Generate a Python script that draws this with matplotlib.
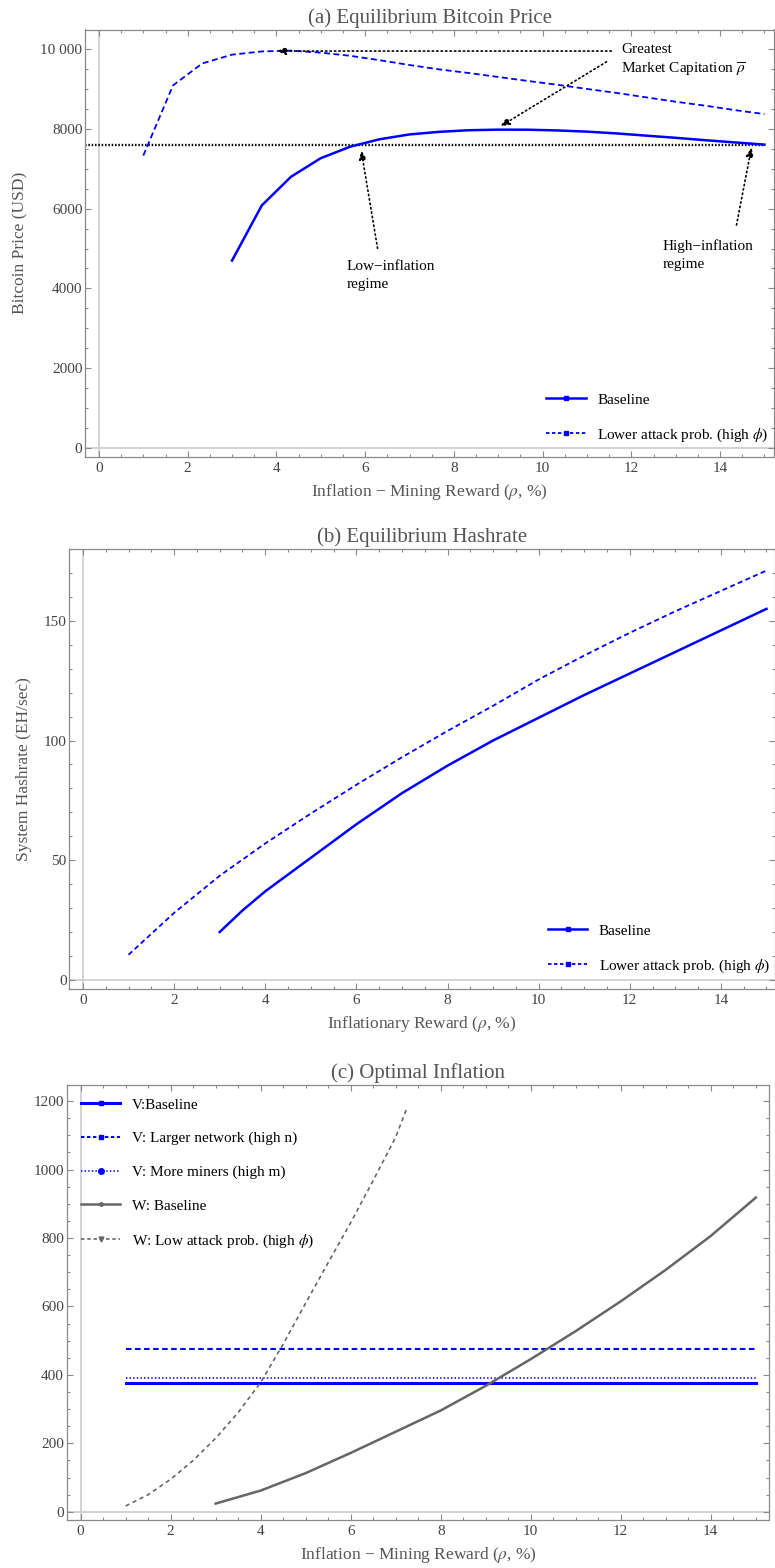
import matplotlib as mpl
import matplotlib.pyplot as plt
from matplotlib.lines import Line2D
from matplotlib.ticker import MultipleLocator, FuncFormatter

plt.rcParams["font.family"] = ["Liberation Serif", "DejaVu Serif"]
plt.rcParams["mathtext.fontset"] = "stix"
plt.rcParams["lines.scale_dashes"] = False

#############
# Constants #
#############

BLUE = "#0000ff"
GRAY = "#666666"
FRAME = "#8a8a8a"
AXIS = "#d0d0d0"
TEXT = "#555555"
TICK = "#444444"

W, H = 775, 1568

########
# Data #
########

# (a) Equilibrium Bitcoin price (USD)
price_base_x = [3, 3.67, 4.33, 5, 5.67, 6.33, 7, 7.67, 8.33, 9, 9.67, 10.33,
                11, 11.67, 12.33, 13, 13.67, 14.33, 15]
price_base = [4700, 6080, 6800, 7265, 7555, 7740, 7860, 7925, 7965, 7980, 7978,
              7960, 7930, 7885, 7830, 7775, 7715, 7660, 7605]
price_phi_x = [1, 1.67, 2.33, 3, 3.67, 4.33, 5, 5.67, 6.33, 7, 7.67, 8.33, 9,
               9.67, 10.33, 11, 11.67, 12.33, 13, 13.67, 14.33, 15]
price_phi = [7330, 9090, 9640, 9860, 9940, 9960, 9910, 9830, 9720, 9600, 9490,
             9400, 9300, 9200, 9105, 9000, 8900, 8790, 8680, 8580, 8470, 8370]
price_ref = 7600

# (b) Equilibrium hashrate (EH/sec)
hash_base_x = [3, 3.5, 4, 5, 6, 7, 8, 9, 10, 11, 12, 13, 14, 15]
hash_base = [20, 29, 37, 51, 65, 78, 89.5, 100, 109.5, 119, 128, 137, 146, 155]
hash_phi_x = [1, 2, 3, 4, 5, 6, 7, 8, 9, 10, 11, 12, 13, 14, 15]
hash_phi = [10.5, 28, 43.5, 57, 69.5, 81.5, 93, 104, 114.5, 125.5, 135.5, 145,
            154, 162.5, 171]

# (c) Optimal inflation
v_x = [1, 15]
v_base = 376
v_network = 476
v_miners = 392
w_base_x = [3, 4, 5, 6, 7, 8, 9, 10, 11, 12, 13, 14, 15]
w_base = [24, 62, 113, 172, 234, 296, 368, 446, 528, 615, 707, 806, 918]
w_phi_x = [1, 1.5, 2, 2.5, 3, 3.5, 4, 4.5, 5, 5.5, 6, 6.5, 7, 7.25]
w_phi = [17, 50, 95, 150, 215, 290, 378, 490, 610, 728, 845, 968, 1095, 1180]

#############
# Functions #
#############


def add_axes(fig, left, top, right, bottom):
    return fig.add_axes([left / W, 1 - bottom / H, (right - left) / W, (bottom - top) / H])


def frame(ax, xlim, ylim, ymajor, yminor, height_px, title, xlabel):
    ax.set_xlim(*xlim)
    ax.set_ylim(*ylim)
    ax.xaxis.set_major_locator(MultipleLocator(2))
    ax.xaxis.set_minor_locator(MultipleLocator(0.5))
    ax.yaxis.set_major_locator(MultipleLocator(ymajor))
    ax.yaxis.set_minor_locator(MultipleLocator(yminor))
    ax.tick_params(which="both", direction="in", top=True, right=True,
                   color=FRAME, width=0.8)
    ax.tick_params(which="major", length=4.5, labelsize=11, labelcolor=TICK)
    ax.tick_params(which="minor", length=2.5)
    ax.tick_params(axis="x", pad=3.5)
    ax.tick_params(axis="y", pad=2)
    for s in ax.spines.values():
        s.set_color(FRAME)
        s.set_linewidth(0.9)
    ax.axhline(0, color=AXIS, lw=1.3, zorder=0)
    ax.axvline(0, color=AXIS, lw=1.3, zorder=0)
    ax.set_title(title, fontsize=15, color=TEXT, pad=5)
    ax.set_xlabel(xlabel, fontsize=12.5, color=TEXT, va="center")
    ax.xaxis.set_label_coords(0.5, -35 / height_px)


def set_ylabel(ax, text, x_px, left_px):
    ax.set_ylabel(text, fontsize=12.5, color=TEXT, va="center")
    width_px = ax.get_position().width * W
    ax.yaxis.set_label_coords((x_px - left_px) / width_px, 0.5)


def legend(ax, handles, labels, anchor):
    ax.legend(handles, labels, loc="center left", bbox_to_anchor=anchor,
              bbox_transform=ax.transData, frameon=False, fontsize=11,
              handlelength=2.6, handletextpad=0.75, labelspacing=1.3,
              borderpad=0, borderaxespad=0, numpoints=1)


def arrow(ax, start, tip):
    ax.annotate("", xy=tip, xytext=start,
                arrowprops=dict(arrowstyle="-|>,head_length=0.55,head_width=0.22",
                                color="black", lw=1.2, linestyle=(0, (1, 2.2)),
                                shrinkA=0, shrinkB=0))


def thousands(v, pos):
    v = int(round(v))
    return f"{v // 1000} {v % 1000:03d}" if v >= 10000 else f"{v}"


########
# Main #
########

fig = plt.figure(figsize=(7.75, 15.68), dpi=100)

# ---- (a) ----
ax = add_axes(fig, 85.2, 29.5, 774.2, 457)
frame(ax, (-0.31, 15.22), (-225, 10490), 2000, 500, 427.5,
      "(a) Equilibrium Bitcoin Price", "Inflation \u2212 Mining Reward ($\\rho$, %)")
set_ylabel(ax, "Bitcoin Price (USD)", 20, 85.2)
ax.yaxis.set_major_formatter(FuncFormatter(thousands))
ax.plot([-0.31, 15], [price_ref, price_ref], color="black", lw=1.7,
        linestyle=(0, (1.1, 1.3)), zorder=2)
ax.plot(price_base_x, price_base, color=BLUE, lw=1.8, zorder=3)
ax.plot(price_phi_x, price_phi, color=BLUE, lw=1.3, dashes=(4.3, 2.5), zorder=3)
arrow(ax, (11.55, 9950), (4.0, 9950))
arrow(ax, (11.44, 9680), (9.04, 8060))
arrow(ax, (6.28, 5005), (5.91, 7470))
arrow(ax, (14.37, 5590), (14.71, 7540))
ax.text(11.77, 10000, "Greatest", fontsize=11, va="center", ha="left")
ax.text(11.77, 9474, "Market Capitation $\\overline{\\rho}$", fontsize=11,
        va="center", ha="left")
ax.text(5.58, 4323, "Low\u2212inflation\nregime", fontsize=11, va="center",
        ha="left", linespacing=1.55)
ax.text(12.7, 4829, "High\u2212inflation\nregime", fontsize=11, va="center",
        ha="left", linespacing=1.55)
legend(ax,
       [Line2D([], [], color=BLUE, lw=1.8, marker="s", ms=3.5),
        Line2D([], [], color=BLUE, lw=1.3, dashes=(2.5, 1.8), marker="s", ms=3.5)],
       ["Baseline", "Lower attack prob. (high $\\phi$)"], (10.08, 743))

# ---- (b) ----
ax = add_axes(fig, 69.3, 549, 774.7, 989)
frame(ax, (-0.30, 15.18), (-3.8, 180), 50, 10, 440,
      "(b) Equilibrium Hashrate", "Inflationary Reward ($\\rho$, %)")
set_ylabel(ax, "System Hashrate (EH/sec)", 24, 69.3)
ax.plot(hash_base_x, hash_base, color=BLUE, lw=1.8, zorder=3)
ax.plot(hash_phi_x, hash_phi, color=BLUE, lw=1.3, dashes=(3.6, 2.4), zorder=3)
legend(ax,
       [Line2D([], [], color=BLUE, lw=1.8, marker="s", ms=3.5),
        Line2D([], [], color=BLUE, lw=1.3, dashes=(2.5, 1.8), marker="s", ms=3.5)],
       ["Baseline", "Lower attack prob. (high $\\phi$)"], (10.2, 12.7))

# ---- (c) ----
ax = add_axes(fig, 66.7, 1085, 769.3, 1520)
frame(ax, (-0.31, 15.3), (-24, 1247), 200, 50, 435,
      "(c) Optimal Inflation", "Inflation \u2212 Mining Reward ($\\rho$, %)")
ax.plot(v_x, [v_network, v_network], color=BLUE, lw=1.5, dashes=(4, 2.5), zorder=3)
ax.plot(v_x, [v_miners, v_miners], color=BLUE, lw=1.2, dashes=(1, 1.6), zorder=3)
ax.plot(v_x, [v_base, v_base], color=BLUE, lw=2.2, zorder=3)
ax.plot(w_base_x, w_base, color=GRAY, lw=1.8, zorder=3)
ax.plot(w_phi_x, w_phi, color=GRAY, lw=1.2, dashes=(3, 2.6), zorder=3)
legend(ax,
       [Line2D([], [], color=BLUE, lw=2.2, marker="s", ms=3.5),
        Line2D([], [], color=BLUE, lw=1.5, dashes=(2.5, 1.8), marker="s", ms=3.5),
        Line2D([], [], color=BLUE, lw=1.2, dashes=(1, 1.6), marker="o", ms=4),
        Line2D([], [], color=GRAY, lw=1.8, marker="o", ms=2.5),
        Line2D([], [], color=GRAY, lw=1.2, dashes=(2.5, 2), marker="v", ms=3.5)],
       ["V:Baseline", "V: Larger network (high n)", "V: More miners (high m)",
        "W: Baseline", "W: Low attack prob. (high $\\phi$)"], (0.0, 987))

fig.savefig("out.png", dpi=100)
